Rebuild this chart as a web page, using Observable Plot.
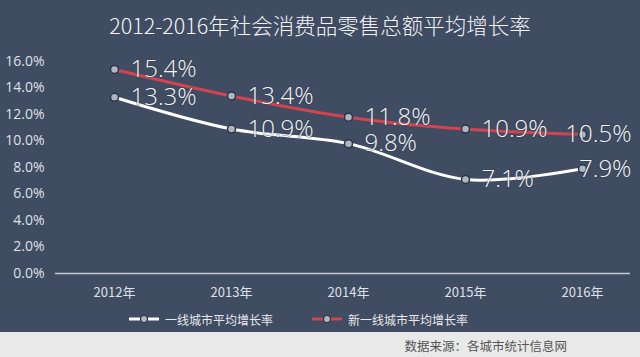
<!DOCTYPE html>
<html>
<head>
<meta charset="utf-8">
<script src="https://cdn.jsdelivr.net/npm/d3@7"></script>
<script src="https://cdn.jsdelivr.net/npm/@observablehq/plot@0.6"></script>
<style>
  html, body { margin: 0; padding: 0; }
  body { width: 640px; height: 357px; background: #404c62; overflow: hidden;
         font-family: "Open Sans", "Noto Sans CJK SC", sans-serif; }
  #title { height: 48px; line-height: 50px; text-align: center; color: #f2f4f7;
           font-size: 21.5px; font-weight: 300; font-family: "Noto Sans CJK SC", sans-serif; }
  #chart { height: 258px; }
  #legend { height: 26px; display: flex; align-items: center; color: #e6e9ee;
            font-size: 12px; font-family: "Noto Sans CJK SC", sans-serif; }
  .item { display: flex; align-items: center; }
  .item svg { margin-right: 5px; }
  #caption { height: 25px; background: #e9e9e9; color: #555; font-size: 12.5px;
             font-family: "Noto Sans CJK SC", sans-serif; text-align: right;
             padding-right: 73px; line-height: 27px; }
</style>
</head>
<body>
<div id="title">2012-2016年社会消费品零售总额平均增长率</div>
<div id="chart"></div>
<div id="legend"></div>
<div id="caption">数据来源：各城市统计信息网</div>
<script>
const years = ["2012年", "2013年", "2014年", "2015年", "2016年"];
const seriesNames = ["一线城市平均增长率", "新一线城市平均增长率"];
const firstTier = [13.3, 10.9, 9.8, 7.1, 7.9];
const newFirstTier = [15.4, 13.4, 11.8, 10.9, 10.5];
const yTicks = [0, 2, 4, 6, 8, 10, 12, 14, 16];
const colors = ["#ffffff", "#d3444f"];

const data = [];
years.forEach((y, i) => {
  data.push({year: y, series: seriesNames[0], value: firstTier[i]});
  data.push({year: y, series: seriesNames[1], value: newFirstTier[i]});
});
const lastYear = years[years.length - 1];
const fmt = d => d.value.toFixed(1) + "%";
const labelStyle = {fill: "#f5f6f8", fontSize: 24, fontWeight: 300,
                    stroke: "#2f394b", strokeWidth: 2, strokeOpacity: 0.35, paintOrder: "stroke"};

const plot = Plot.plot({
  width: 640,
  height: 258,
  marginLeft: 55,
  marginRight: 0,
  marginTop: 13,
  marginBottom: 33,
  style: {background: "transparent", color: "#dde1e8", fontSize: "14px",
          fontFamily: "'Open Sans', 'Noto Sans CJK SC', sans-serif"},
  x: {type: "point", domain: years, padding: 0.5, label: null},
  y: {domain: [0, 16], ticks: yTicks, label: null},
  color: {domain: seriesNames, range: colors},
  marks: [
    Plot.axisY({ticks: yTicks, tickSize: 0, tickPadding: 11,
                tickFormat: d => d.toFixed(1) + "%", fontSize: 14}),
    Plot.axisX({tickSize: 0, tickPadding: 14, fontSize: 13,
                fontFamily: "'Noto Sans CJK SC', sans-serif"}),
    Plot.ruleY([0], {stroke: "#c5ccd6", strokeWidth: 1.5, insetRight: 10}),
    Plot.line(data, {x: "year", y: "value", z: "series", stroke: "series",
                     strokeWidth: 3, curve: "catmull-rom"}),
    Plot.dot(data, {x: "year", y: "value", r: 4, fill: "#aeb6c2",
                    stroke: "#2b3446", strokeWidth: 1.5}),
    Plot.text(data.filter(d => d.year !== lastYear),
              {x: "year", y: "value", text: fmt, dx: 16, textAnchor: "start", ...labelStyle}),
    Plot.text(data.filter(d => d.year === lastYear),
              {x: "year", y: "value", text: fmt, dx: 49, textAnchor: "end", ...labelStyle})
  ]
});
document.getElementById("chart").appendChild(plot);

const legend = document.getElementById("legend");
const offsets = [128, 38];
seriesNames.forEach((name, i) => {
  const item = document.createElement("div");
  item.className = "item";
  item.style.marginLeft = offsets[i] + "px";
  item.innerHTML = `<svg width="32" height="12"><line x1="1" y1="6" x2="31" y2="6" stroke="${colors[i]}" stroke-width="3"/><circle cx="16" cy="6" r="3.5" fill="#aeb6c2" stroke="#2b3446" stroke-width="1.2"/></svg><span>${name}</span>`;
  legend.appendChild(item);
});
</script>
</body>
</html>
